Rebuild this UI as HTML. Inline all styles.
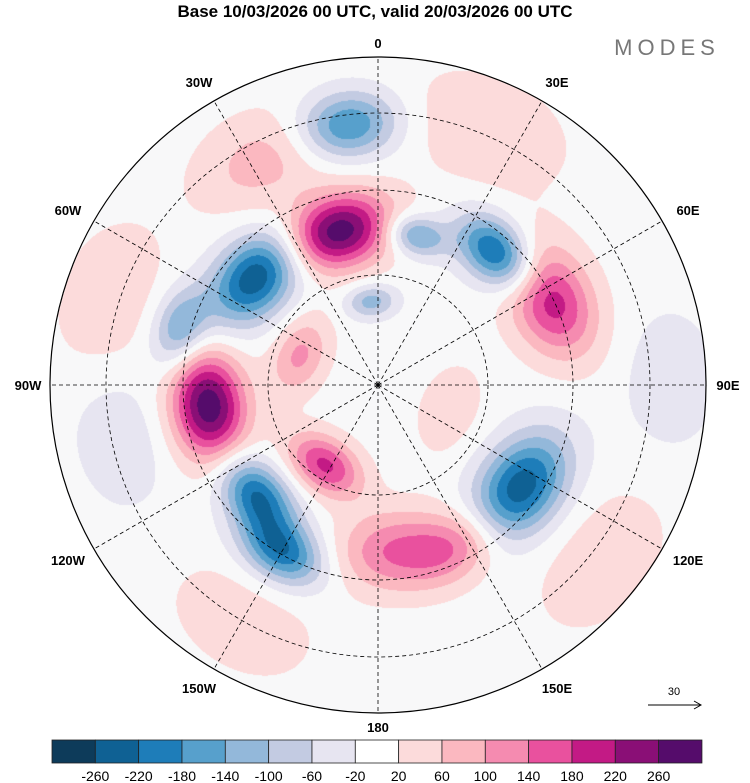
<!DOCTYPE html>
<html><head><meta charset="utf-8"><style>
body{margin:0;background:#fff;width:750px;height:783px;overflow:hidden;font-family:"Liberation Sans",sans-serif}
svg,canvas{position:absolute;left:0;top:0}
</style></head><body>
<canvas id="cv" width="750" height="783"></canvas>
<svg id="c" width="750" height="783">
<defs><clipPath id="clip"><circle cx="378" cy="385" r="328"/></clipPath></defs>
<text x="375" y="17" text-anchor="middle" font-size="17" font-weight="bold">Base 10/03/2026 00 UTC, valid 20/03/2026 00 UTC</text>
<text x="667" y="55" text-anchor="middle" font-size="22" fill="#777" letter-spacing="5">MODES</text>
<g id="grid" clip-path="url(#clip)"></g>
<circle cx="378" cy="385" r="328" fill="none" stroke="#000" stroke-width="1.2"/>
<g id="labels" font-size="13" font-weight="bold"></g>
<g id="cbar"></g>
<line x1="648" y1="705" x2="700" y2="705" stroke="#000"/>
<path d="M694 701 L701 705 L694 709" fill="none" stroke="#000"/>
<text x="674" y="695" text-anchor="middle" font-size="11">30</text>
</svg>
<script>
const levels=[-260,-220,-180,-140,-100,-60,-20,20,60,100,140,180,220,260];
const colors=["#0d3b5a","#0f6194","#1e7db9","#57a0cc","#93b8da","#c3cbe2","#e7e5f1","#f8f8f9","#fcdbdb","#fbb8c0","#f58bb0","#e9519e","#c31a85","#8a0f76","#550c6b"];
// anomaly centres: lon (deg, east +), lat, peak value, spread (deg of lat)
const blobLon=[-15,-97,-48,-7,42,14,63,126,-132,-150,-146,174,153,23,-69,-72,128,89,-102,-5,-27,109,-150,-74];
const blobLat=[56,53.5,55,34,52,57,49,52.6,55,49,69.5,54.6,51.6,31,72,30,29.6,27.7,33.6,72,36,74,32,46];
const blobVal=[290,290,-260,-190,-250,-160,210,-250,-220,-210,190,140,110,60,110,50,50,-50,-50,-120,80,45,45,-150];
const blobSize=[5.5,5.5,5.5,5,4.5,3,6,6,4.5,4.5,4,6,5,8,4,8,8,7,7,2.5,7,5,8,4];
const lonTicks=["0","30E","60E","90E","120E","150E","180","150W","120W","90W","60W","30W"];
const circleLats=[70,50,30];
const CX=378,CY=385,R=328,LATMIN=20;
const rOf=lat=>R*(90-lat)/(90-LATMIN);
const rGrid=lat=>({70:110,50:195,30:272})[lat];
const proj=(lon,lat)=>{const a=lon*Math.PI/180,r=rOf(lat);return [CX+r*Math.sin(a),CY-r*Math.cos(a)];};
function colorIdx(v){let i=0;while(i<levels.length&&v>levels[i])i++;return i;}
function hex(h){return [parseInt(h.substr(1,2),16),parseInt(h.substr(3,2),16),parseInt(h.substr(5,2),16)];}
const rgb=colors.map(hex);
const cv=document.getElementById('cv'),ctx=cv.getContext('2d');
const img=ctx.createImageData(750,783);
const B=blobLon.map((lon,b)=>{const [x,y]=proj(lon,blobLat[b]);const a=lon*Math.PI/180;
 return {x,y,s:blobSize[b]*R/(90-LATMIN),v:blobVal[b],ca:Math.cos(a),sa:Math.sin(a)};});
for(let y=0;y<783;y++)for(let x=0;x<750;x++){
 const dx0=x-CX,dy0=y-CY;if(dx0*dx0+dy0*dy0>R*R)continue;
 let f=0;
 for(const b of B){const dx=x-b.x,dy=y-b.y;
  const u=dx*b.ca+dy*b.sa, w=-dx*b.sa+dy*b.ca;
  const d2=(u*u)/(1.5*1.5)+w*w; f+=b.v*Math.exp(-d2/(2*b.s*b.s));}
 const c=rgb[colorIdx(f)],k=(y*750+x)*4;
 img.data[k]=c[0];img.data[k+1]=c[1];img.data[k+2]=c[2];img.data[k+3]=255;}
ctx.putImageData(img,0,0);
const NS="http://www.w3.org/2000/svg";
function mk(t,a,p){const e=document.createElementNS(NS,t);for(const k in a)e.setAttribute(k,a[k]);p.appendChild(e);return e;}
const G=document.getElementById('grid');
circleLats.forEach(lat=>{const c=mk('circle',{cx:CX,cy:CY,r:rGrid(lat),fill:'none',stroke:'#000','stroke-dasharray':'4 3','stroke-width':0.8},G);
});
for(let i=0;i<12;i++){const [x,y]=proj(i*30,LATMIN);const l=mk('line',{x1:CX,y1:CY,x2:x,y2:y,stroke:'#000','stroke-dasharray':'4 3','stroke-width':0.8},G);
}
const L=document.getElementById('labels');
lonTicks.forEach((t,i)=>{const a=i*30*Math.PI/180;
 let x=CX+(R+14)*Math.sin(a),y=CY-(R+14)*Math.cos(a)+5;
 if(i%3!=0){x=CX+(R+30)*Math.sin(a);y=CY-(R+22)*Math.cos(a)+5;}
 if(i==3)x+=8; if(i==9)x-=8;
 const e=mk('text',{x:x,y:y,'text-anchor':'middle'},L);e.textContent=t;
 });
const C=document.getElementById('cbar');const x0=52,bw=43.33;
colors.forEach((c,i)=>{const r=mk('rect',{x:x0+i*bw,y:740,width:bw,height:23,fill:i==7?'#ffffff':c,stroke:'#222','stroke-width':0.8},C);
});
levels.forEach((v,i)=>{const t=mk('text',{x:x0+(i+1)*bw,y:781,'text-anchor':'middle','font-size':14},C);t.textContent=v;
});
</script>
</body></html>
